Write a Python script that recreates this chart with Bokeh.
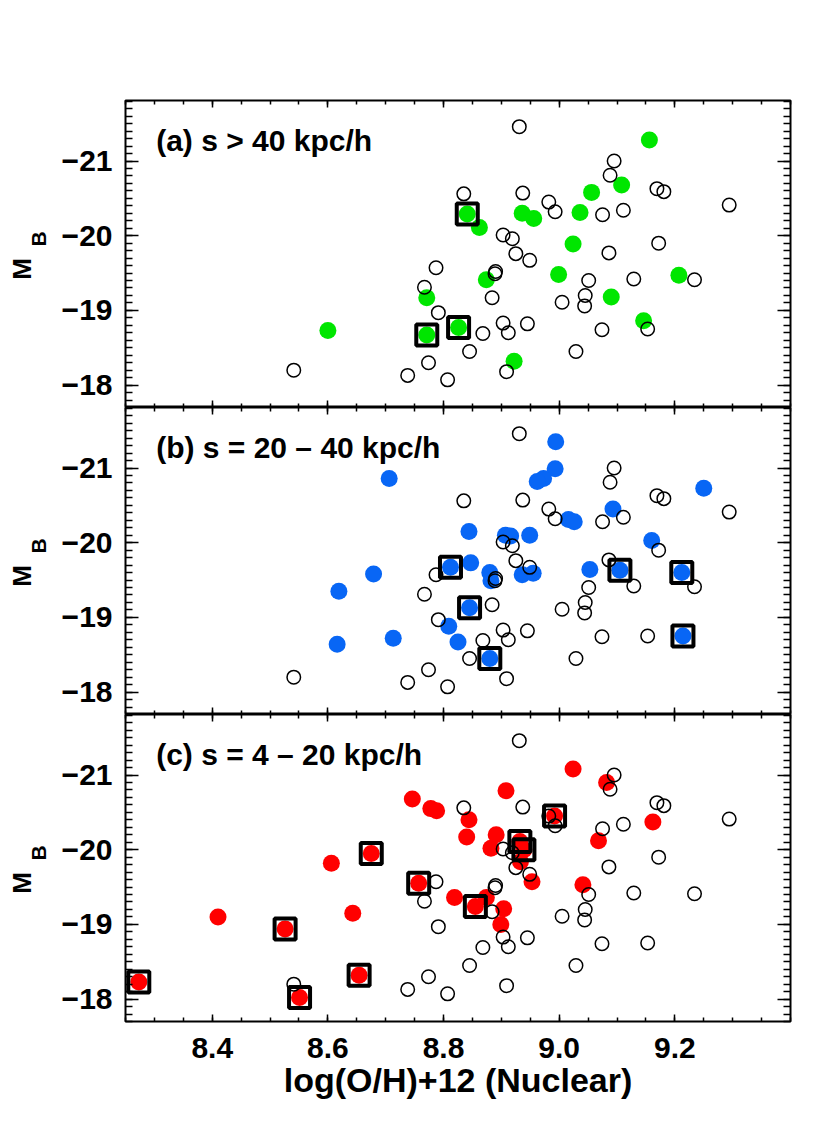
import numpy as np
from math import pi
from bokeh.plotting import figure
from bokeh.layouts import column, row
from bokeh.models import Range1d, FixedTicker, LinearAxis, Label, CustomLabelingPolicy
from bokeh.core.properties import value
from bokeh.embed import file_html
from bokeh.resources import INLINE

# ---------------- data ----------------
# comparison sample (open circles), identical in every panel
bg_oh = [8.541, 8.738, 8.774, 8.807, 8.845, 8.791, 8.767, 8.787, 8.835,
         8.931, 9.095, 9.088, 9.169, 9.181, 9.294, 8.937, 8.982, 8.993, 9.075,
         9.111, 8.903, 8.919, 8.925, 8.949, 9.172, 9.086, 8.890, 8.889, 8.884,
         9.051, 9.129, 9.234, 9.045, 9.044, 9.005, 8.903, 8.912, 8.945, 8.868,
         9.074, 9.153, 9.029, 8.909]
bg_mb = [-18.20, -18.13, -18.30, -18.07, -18.45, -18.97, -19.31, -19.57, -20.56,
         -21.46, -21.00, -20.81, -20.63, -20.59, -20.41, -20.57, -20.45, -20.32, -20.28,
         -20.34, -20.01, -19.96, -19.76, -19.67, -19.90, -19.77, -19.52, -19.49, -19.17,
         -19.40, -19.42, -19.41, -19.20, -19.06, -19.11, -18.83, -18.70, -18.82, -18.69,
         -18.74, -18.75, -18.45, -18.18]

# (a) s > 40 kpc/h
a_oh = [8.600, 8.771, 8.771, 8.826, 8.841, 8.862, 9.156, 9.108, 9.056, 8.936,
        8.956, 9.036, 9.024, 8.874, 8.999, 9.207, 9.090, 9.146, 8.922]
a_mb = [-18.73, -19.17, -18.67, -18.77, -20.29, -20.11, -21.28, -20.68, -20.58, -20.30,
        -20.23, -20.31, -19.89, -19.41, -19.48, -19.47, -19.18, -18.86, -18.32]
a_box = [0, 0, 1, 1, 1, 0, 0, 0, 0, 0, 0, 0, 0, 0, 0, 0, 0, 0, 0]

# (b) s = 20 - 40 kpc/h
b_oh = [8.706, 8.844, 8.847, 8.812, 8.679, 8.619, 8.845, 8.809, 8.825, 8.713, 8.616,
        8.994, 8.993, 8.973, 8.962, 9.250, 9.093, 9.016, 9.026, 8.907, 8.916, 8.949,
        9.160, 8.880, 8.882, 8.936, 8.955, 9.053, 9.105, 9.212, 8.880, 9.214]
b_mb = [-20.86, -20.15, -19.73, -19.67, -19.58, -19.35, -19.13, -18.88, -18.67, -18.72, -18.64,
        -21.35, -20.99, -20.86, -20.82, -20.73, -20.45, -20.31, -20.28, -20.10, -20.09, -20.10,
        -20.03, -19.60, -19.49, -19.57, -19.59, -19.64, -19.63, -19.60, -18.45, -18.75]
b_box = [0, 0, 0, 1, 0, 0, 1, 0, 0, 0, 0,
         0, 0, 0, 0, 0, 0, 0, 0, 0, 0, 0,
         0, 0, 0, 0, 0, 0, 1, 1, 1, 1]

# (c) s = 4 - 20 kpc/h
c_oh = [8.273, 8.410, 8.526, 8.551, 8.606, 8.643, 8.654, 8.675, 8.746, 8.778, 8.788,
        8.757, 8.819, 8.844, 8.840, 8.855, 8.874, 9.024, 9.082, 8.908, 8.992, 9.162,
        8.891, 8.882, 8.932, 8.939, 8.933, 9.068, 8.953, 9.041, 8.904, 8.899]
c_mb = [-18.23, -19.10, -18.94, -18.02, -19.82, -19.15, -18.32, -19.95, -20.68, -20.55, -20.52,
        -19.55, -19.36, -20.40, -20.17, -19.24, -19.36, -21.08, -20.90, -20.79, -20.45, -20.37,
        -20.20, -20.02, -20.11, -20.00, -19.84, -20.12, -19.57, -19.53, -19.21, -19.00]
c_box = [1, 0, 1, 1, 0, 0, 1, 1, 0, 0, 0,
         1, 0, 0, 0, 1, 0, 0, 0, 0, 1, 0,
         0, 0, 1, 1, 0, 0, 0, 0, 0, 0]

panel_titles = ["(a) s > 40 kpc/h", "(b) s = 20 \u2013 40 kpc/h", "(c) s = 4 \u2013 20 kpc/h"]
panel_colors = ["#00e600", "#0866f5", "#ff0000"]

x_ticks = [8.4, 8.6, 8.8, 9.0, 9.2]
x_tick_labels = ["8.4", "8.6", "8.8", "9.0", "9.2"]
y_ticks = [-21, -20, -19, -18]
y_tick_labels = ["\u221221", "\u221220", "\u221219", "\u221218"]
x_title = "log(O/H)+12 (Nuclear)"
y_title_main = "M"
y_title_sub = "B"

# ---------------- layout ----------------
FONT = "Liberation Sans"
X0, X1 = 8.25, 9.40
Y0, Y1 = -17.70, -21.81
TITLE_W = 50            # strip holding the rotated M_B titles
LEFT, RIGHT = 75, 30    # borders of the panels
FRAME_W, FRAME_H = 665, 307
TOP, BOTTOM = 100, 104
W = LEFT + FRAME_W + RIGHT
H_TOTAL = TOP + 3 * FRAME_H + BOTTOM

x_minor = list(np.round(np.arange(8.25, 9.401, 0.05), 3))
y_minor = list(np.round(np.arange(-21.8, -17.69, 0.1), 2))

hide_labels = CustomLabelingPolicy(code="return []")


def make_axis(kind, show_labels, lw):
    if kind == "x":
        ax = LinearAxis(ticker=FixedTicker(ticks=x_ticks, minor_ticks=x_minor))
        ax.major_tick_in, ax.minor_tick_in = 7, 4
        ax.major_label_overrides = {t: l for t, l in zip(x_ticks, x_tick_labels)}
    else:
        ax = LinearAxis(ticker=FixedTicker(ticks=y_ticks, minor_ticks=y_minor))
        ax.major_tick_in, ax.minor_tick_in = 13, 7
        ax.major_label_overrides = {t: l for t, l in zip(y_ticks, y_tick_labels)}
    ax.major_tick_out = 0
    ax.minor_tick_out = 0
    ax.axis_line_color = None
    ax.major_tick_line_width = lw
    ax.minor_tick_line_width = lw
    ax.major_tick_line_color = "black"
    ax.minor_tick_line_color = "black"
    if show_labels:
        ax.major_label_text_font = FONT
        ax.major_label_text_font_style = "bold"
        ax.major_label_text_font_size = "30px"
        ax.major_label_text_color = "black"
        ax.major_label_standoff = 16 if kind == "x" else 13
    else:
        ax.major_label_text_font_size = "0px"
        ax.major_label_standoff = 0
        ax.major_label_policy = hide_labels
    return ax


def panel(idx, oh, mb, box, top, bottom, bottom_labels):
    h = top + FRAME_H + bottom
    p = figure(width=W, height=h, x_range=Range1d(X0, X1), y_range=Range1d(Y0, Y1),
               output_backend="svg", toolbar_location=None,
               x_axis_location=None, y_axis_location=None,
               min_border_left=LEFT, min_border_right=RIGHT,
               min_border_top=top, min_border_bottom=bottom)
    p.xgrid.visible = False
    p.ygrid.visible = False
    p.outline_line_color = "black"
    p.outline_line_width = 2
    p.background_fill_color = "white"
    p.border_fill_color = "white"

    p.add_layout(make_axis("y", True, 1.5), "left")
    p.add_layout(make_axis("y", False, 1.5), "right")
    p.add_layout(make_axis("x", False, 1.5), "above")
    bax = make_axis("x", bottom_labels, 1.5)
    if bottom_labels:
        bax.axis_label = x_title
        bax.axis_label_text_font = FONT
        bax.axis_label_text_font_style = "bold"
        bax.axis_label_text_font_size = "34px"
        bax.axis_label_text_color = "black"
        bax.axis_label_standoff = 0
    p.add_layout(bax, "below")

    col = panel_colors[idx]
    p.scatter(oh, mb, size=17, marker="circle", fill_color=col, line_color=None)
    p.scatter(bg_oh, bg_mb, size=13.5, marker="circle", fill_color=None,
              line_color="black", line_width=1.5)
    sq_oh = [o for o, b in zip(oh, box) if b]
    sq_mb = [m for m, b in zip(mb, box) if b]
    p.scatter(sq_oh, sq_mb, size=21, marker="square", fill_color=None,
              line_color="black", line_width=4)

    p.add_layout(Label(x=8.303, y=-21.27, text=panel_titles[idx], text_font=FONT,
                       text_font_style="bold", text_font_size="30px",
                       text_color="black", text_baseline="alphabetic"))
    return p


p1 = panel(0, a_oh, a_mb, a_box, TOP, 0, False)
p2 = panel(1, b_oh, b_mb, b_box, 0, 0, False)
p3 = panel(2, c_oh, c_mb, c_box, 0, BOTTOM, True)

# strip on the left with the rotated y titles "M_B" (one per panel), in pixel units
t = figure(width=TITLE_W, height=H_TOTAL, x_range=Range1d(0, TITLE_W),
           y_range=Range1d(H_TOTAL, 0), output_backend="svg", toolbar_location=None,
           x_axis_location=None, y_axis_location=None,
           min_border_left=0, min_border_right=0, min_border_top=0, min_border_bottom=0)
t.xgrid.visible = False
t.ygrid.visible = False
t.outline_line_color = None
t.background_fill_color = "white"
t.border_fill_color = "white"
centers = [TOP + FRAME_H * (i + 0.5) for i in range(3)]
t.text(x=[21] * 3, y=[c + 15 for c in centers], text=[y_title_main] * 3, angle=pi / 2,
       text_font=value(FONT), text_font_style="bold", text_font_size="26px",
       text_color="black", text_align="center", text_baseline="alphabetic")
t.text(x=[38] * 3, y=[c - 15 for c in centers], text=[y_title_sub] * 3, angle=pi / 2,
       text_font=value(FONT), text_font_style="bold", text_font_size="21px",
       text_color="black", text_align="center", text_baseline="alphabetic")

layout = row(t, column(p1, p2, p3, spacing=0), spacing=0)
open("out.html", "w").write(file_html(layout, INLINE))
